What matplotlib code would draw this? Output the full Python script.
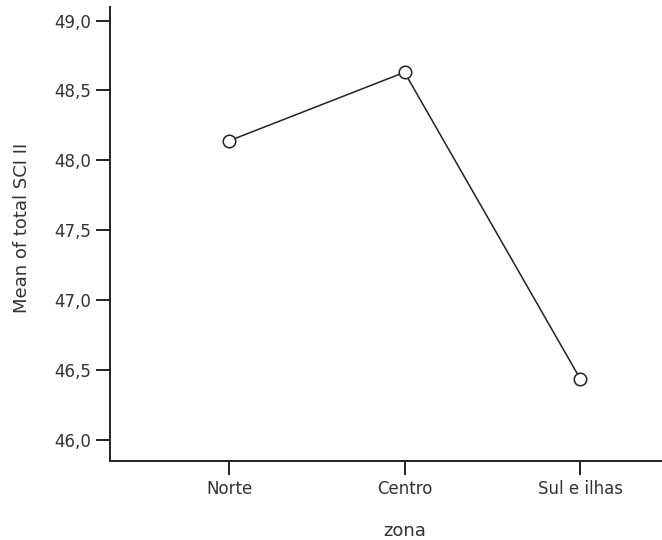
import matplotlib
matplotlib.use('Agg')
import matplotlib.pyplot as plt
from matplotlib.ticker import FuncFormatter

#***** Data *****
zonas = ['Norte', 'Centro', 'Sul e ilhas']
means = [48.14, 48.63, 46.44]
yticks = [46.0, 46.5, 47.0, 47.5, 48.0, 48.5, 49.0]
#****************

plt.rcParams['font.family'] = ['DejaVu Sans']
txt = '#333333'
ink = '#222222'

fig = plt.figure(figsize=(6.62, 5.40), dpi=100)
ax = fig.add_axes([0.1662, 0.1463, 0.8338, 0.8407])

x = list(range(len(zonas)))
ax.plot(x, means, color=ink, linewidth=1.1, marker='o', markersize=9,
        markerfacecolor='white', markeredgecolor=ink, markeredgewidth=1.1)

ax.set_xlim(-0.678, 2.467)
ax.set_ylim(45.85, 49.097)
ax.set_yticks(yticks)
ax.yaxis.set_major_formatter(FuncFormatter(lambda v, p: ('%.1f' % v).replace('.', ',')))
ax.set_xticks(x)
ax.set_xticklabels(zonas)

for s in ['top', 'right']:
    ax.spines[s].set_visible(False)
for s in ['left', 'bottom']:
    ax.spines[s].set_linewidth(1.4)
    ax.spines[s].set_color(ink)

ax.tick_params(axis='y', length=10, width=1.4, color=ink, labelsize=12, labelcolor=txt, pad=3.5)
ax.tick_params(axis='x', length=10, width=1.4, color=ink, labelsize=12, labelcolor=txt, pad=4)

# Axis titles
ax.set_ylabel('Mean of total SCI II', fontsize=13, color=txt, va='center')
ax.yaxis.set_label_coords(-0.160, 0.513)
ax.set_xlabel('zona', fontsize=13, color=txt, va='center')
ax.xaxis.set_label_coords(0.534, -0.154)

fig.savefig('out.png', dpi=100)
